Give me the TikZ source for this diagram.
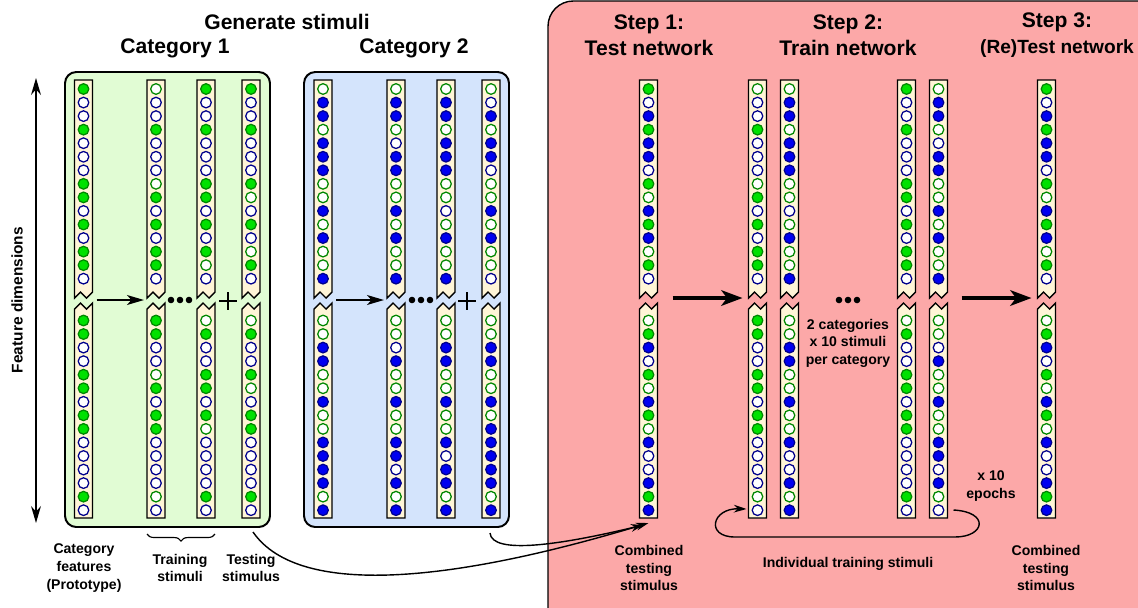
\documentclass[tikz,border=0pt]{standalone}
\usepackage{fontspec}
\setmainfont{Liberation Sans}
\usetikzlibrary{arrows.meta,positioning,calc,decorations.pathreplacing}
\definecolor{dotgreen}{RGB}{0,225,0}
\definecolor{dotgreenrim}{RGB}{0,135,0}
\definecolor{dotblue}{RGB}{0,0,240}
\definecolor{dotbluerim}{RGB}{0,0,140}
\definecolor{stripfill}{RGB}{255,245,215}
\definecolor{catAfill}{RGB}{225,252,212}
\definecolor{catBfill}{RGB}{212,228,252}
\definecolor{stepfill}{RGB}{252,168,168}
\tikzset{
  dotG/.style={fill=dotgreen,draw=dotgreenrim},
  dotg/.style={fill=white,draw=dotgreenrim},
  dotB/.style={fill=dotblue,draw=dotbluerim},
  dotb/.style={fill=white,draw=dotbluerim},
  stripbox/.style={fill=stripfill,draw=black,line width=1pt},
  headtxt/.style={font=\fontsize{15}{18.4}\selectfont\bfseries,align=center,inner sep=0pt},
  smalltxt/.style={font=\fontsize{10}{12.5}\selectfont\bfseries,align=center,inner sep=0pt},
  thinarrow/.style={line width=1pt,-{Stealth[length=9pt,width=5.5pt]}},
  midarrow/.style={line width=1.4pt,-{Stealth[length=12pt,width=7pt,inset=3pt]}},
  bigarrow/.style={line width=2.8pt,-{Stealth[length=15pt,width=11pt,inset=4pt]}},
}
% dots of one half of a strip: x, first y, pattern (G g B b)
\newcommand{\stimdots}[3]{\def\dotx{#1}\def\doty{#2}\stimnext#3\relax}
\def\stimnext#1{\ifx#1\relax\else
  \path[dot#1,line width=0.9pt] (\dotx,\doty) circle[radius=5.3];
  \pgfmathsetmacro\doty{\doty+13.55}%
  \expandafter\stimnext\fi}
% one stimulus strip with its break: name, x, top pattern, bottom pattern
\newcommand{\stimcol}[4]{%
  \path[stripbox] (#2-9,80) -- (#2+9,80) -- (#2+9,292) -- (#2+3,298) -- (#2-3,292) -- (#2-9,298) -- cycle;
  \path[stripbox] (#2-9,518) -- (#2-9,309) -- (#2-3,303) -- (#2+3,309) -- (#2+9,303) -- (#2+9,518) -- cycle;
  \stimdots{#2}{89}{#3}\stimdots{#2}{320.5}{#4}
  \coordinate (#1) at (#2,299);
  \coordinate (#1-bot) at (#2,518);}

\begin{document}
\begin{tikzpicture}[x=0.025cm,y=-0.025cm]
  \useasboundingbox (0,0) rectangle (1138,607);
  \draw[fill=stepfill,line width=1pt,rounded corners=18] (548,1) rectangle (1180,650);
  \draw[fill=catAfill,line width=1.4pt,rounded corners=8] (65,72) rectangle (270,527);
  \draw[fill=catBfill,line width=1.4pt,rounded corners=8] (304,72) rectangle (509,527);

  \stimcol{c1p}{83.5}{GbbGbbbGGbGbGGb}{GGbbGGbGGbbbbGb}
  \stimcol{c1a}{156}{gbbGbbbgGbGbGGb}{GGbbgGbGGbbbbgb}
  \stimcol{c1b}{206}{GbbGbbbGGbGbGgb}{gGbbGGbGgbbbbGb}
  \stimcol{c1t}{251}{GbbGbbbGgbGbgGb}{gGbbGgbGGbbbbGb}
  \stimcol{c2p}{323}{gBBgBBBggBgBggB}{ggBBggBggBBBBgB}
  \stimcol{c2a}{396}{gBBgbBBggBgBggB}{ggbBggBggBBbBgB}
  \stimcol{c2b}{446}{gBBgBBBggbgBggB}{ggBBggBggBbBBgB}
  \stimcol{c2t}{491}{gbBgBBbggBgBggb}{ggBBggBgBBBBBgB}
  \stimcol{s1}{648.5}{GbBGBBbGgBGBgGb}{gGBbGgBGgBbbBGB}
  \stimcol{s2a}{757.5}{gbbGbbbgGbGbGGb}{GGbbGGbGGbbbbgb}
  \stimcol{s2b}{789.5}{gBBgBBBggbgBggB}{ggBBggBggBbbBgB}
  \stimcol{s2c}{906.5}{GbbGbbbGGbGbGGb}{gGbbGGbGGbbbbGb}
  \stimcol{s2d}{938.5}{gBBgbBBggBgBggB}{ggbBggBggBBbBgb}
  \stimcol{s3}{1046.5}{GbBGBBbGgBGBgGb}{gGBbGgBGgBbbBGB}

  \node[headtxt] (gen) at (287,22) {Generate stimuli};
  \node[headtxt] (cat1) at (175,48) {Category 1};
  \node[headtxt] (cat2) at (414,48) {Category 2};
  \node[headtxt] (step1) at (649,35) {Step 1:\\Test network};
  \node[headtxt] (step2) at (848,35) {Step 2:\\Train network};
  \node[headtxt] (step3) at (1057,35) {Step 3:\\\fontsize{13.6}{18.4}\selectfont(Re)Test network};

  \coordinate (dimtop) at (36,78);
  \coordinate (dimbot) at (36,523);
  \draw[line width=1.4pt,{Stealth[length=12pt,width=7pt]}-{Stealth[length=12pt,width=7pt]}] (dimtop) -- (dimbot);
  \node[smalltxt,font=\fontsize{11}{13}\selectfont\bfseries,rotate=90] (dimlbl) at (17,300) {Feature dimensions};

  % inside the category boxes
  \draw[midarrow] ($(c1p)+(13,1)$) -- ($(c1a)+(-12,1)$);
  \draw[midarrow] ($(c2p)+(13,1)$) -- ($(c2a)+(-12,1)$);
  \foreach \px in {171,180,189,412,421,430,839,848,857}
    \fill (\px,300) circle[radius=3.3];
  \draw[line width=1.6pt] (219,301) -- (237,301) (228,292) -- (228,310);
  \draw[line width=1.6pt] (458,301) -- (476,301) (467,292) -- (467,310);

  \node[smalltxt] (proto) at (84,568) {Category\\features\\(Prototype)};
  \node[smalltxt] (trainlbl) at (180,568) {Training\\stimuli};
  \node[smalltxt] (testlbl) at (251,568) {Testing\\stimulus};
  \draw[decorate,decoration={brace,mirror,amplitude=5pt},line width=0.8pt] ($(c1a-bot)+(-9,16)$) -- ($(c1b-bot)+(9,16)$);

  \node[smalltxt] (comb1) at (649,568) {Combined\\testing\\stimulus};
  \node[smalltxt] (comb3) at (1046,568) {Combined\\testing\\stimulus};
  \node[smalltxt] (indiv) at (848,564) {Individual training stimuli};
  \node[smalltxt] (epochs) at (991,486) {x 10\\epochs};
  \node[smalltxt] (percat) at (848,343) {2 categories\\x 10 stimuli\\per category};

  \draw[bigarrow] ($(s1)+(24,-1)$) -- ($(s2a)+(-15,-1)$);
  \draw[bigarrow] ($(s2d)+(23,-1)$) -- ($(s3)+(-15,-1)$);

  \draw[thinarrow] ($(c1t-bot)+(2,14)$) .. controls (300,600) and (460,580) .. ($(s1-bot)+(0,5)$);
  \draw[thinarrow] ($(c2t-bot)+(-1,15)$) .. controls (492,555) and (560,545) .. ($(s1-bot)+(-5,7)$);
  \draw[thinarrow] ($(s2d-bot)+(15,-8)$) .. controls (990,512) and (985,537) .. (955,537) -- (735,537)
    .. controls (705,537) and (712,508) .. ($(s2a-bot)+(-11,-9)$);
\end{tikzpicture}
\end{document}
